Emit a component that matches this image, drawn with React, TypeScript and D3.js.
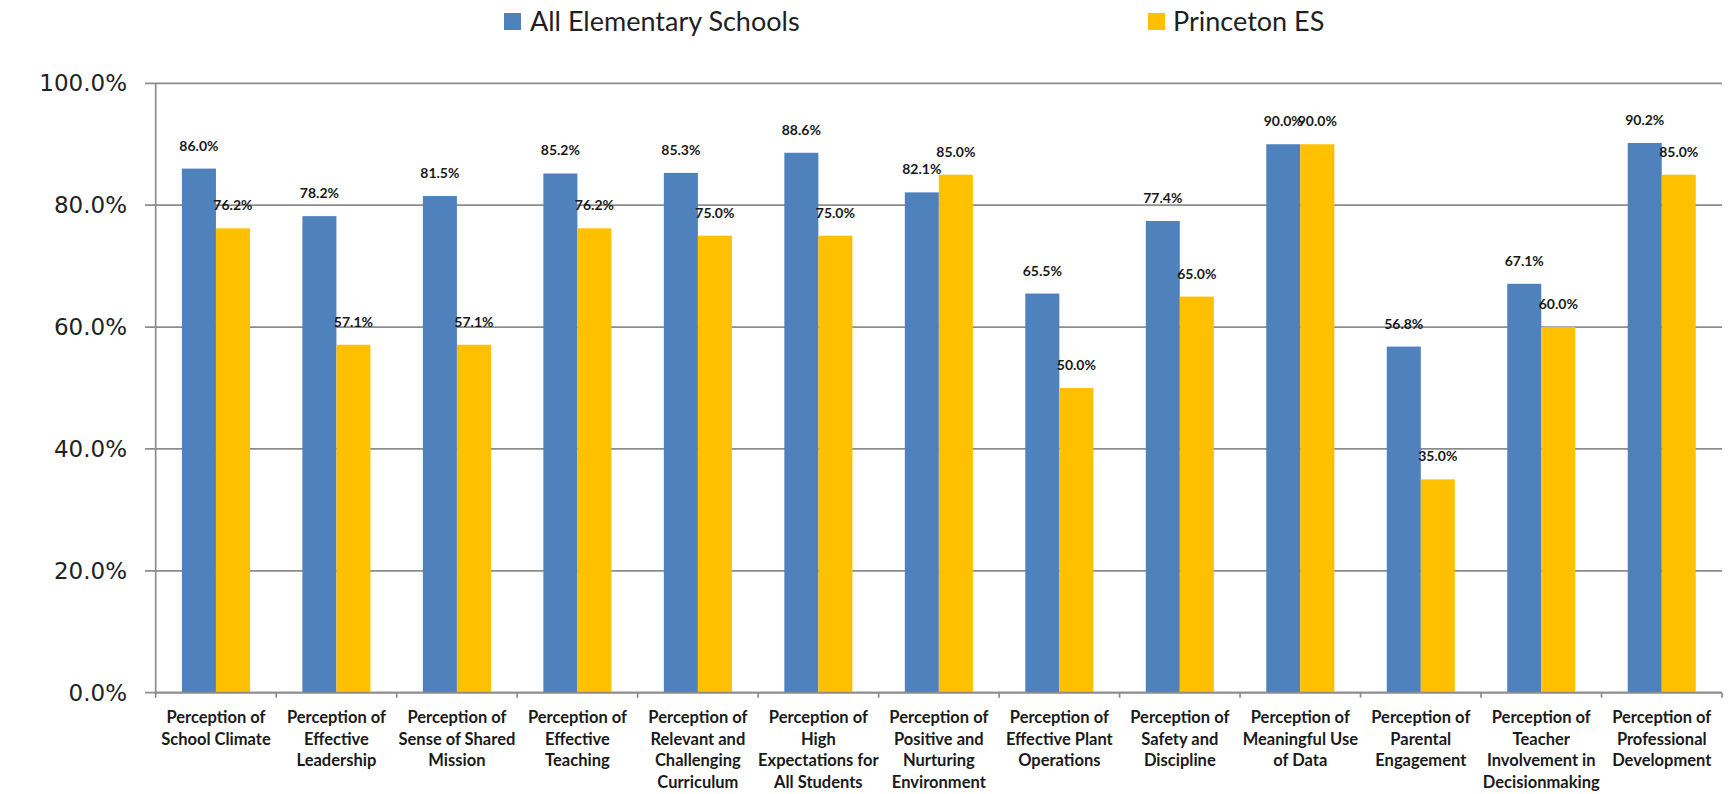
import React from "react";
import * as d3 from "d3";

const categories = [
  ["Perception of", "School Climate"],
  ["Perception of", "Effective", "Leadership"],
  ["Perception of", "Sense of Shared", "Mission"],
  ["Perception of", "Effective", "Teaching"],
  ["Perception of", "Relevant and", "Challenging", "Curriculum"],
  ["Perception of", "High", "Expectations for", "All Students"],
  ["Perception of", "Positive and", "Nurturing", "Environment"],
  ["Perception of", "Effective Plant", "Operations"],
  ["Perception of", "Safety and", "Discipline"],
  ["Perception of", "Meaningful Use", "of Data"],
  ["Perception of", "Parental", "Engagement"],
  ["Perception of", "Teacher", "Involvement in", "Decisionmaking"],
  ["Perception of", "Professional", "Development"],
];

const seriesNames = ["All Elementary Schools", "Princeton ES"];
const seriesColors = ["#4F81BD", "#FFC000"];

const allSchools = [86.0, 78.2, 81.5, 85.2, 85.3, 88.6, 82.1, 65.5, 77.4, 90.0, 56.8, 67.1, 90.2];
const princeton = [76.2, 57.1, 57.1, 76.2, 75.0, 75.0, 85.0, 50.0, 65.0, 90.0, 35.0, 60.0, 85.0];

const yTicks = [0, 20, 40, 60, 80, 100];

const W = 1728;
const H = 794;
const plot = { left: 155.7, right: 1722, top: 83.3, bottom: 692.7 };

export default function App() {
  const keys = categories.map((c) => c.join(" "));
  const series = [allSchools, princeton];

  const x0 = d3.scaleBand().domain(keys).range([plot.left, plot.right]).padding(0);
  const x1 = d3
    .scaleBand()
    .domain(seriesNames)
    .range([0, x0.bandwidth()])
    .paddingInner(0)
    .paddingOuter(0.77);
  const y = d3.scaleLinear().domain([0, 100]).range([plot.bottom, plot.top]);
  const fmt = (v) => d3.format(".1f")(v) + "%";

  const grid = "#8c8c8c";

  return (
    <svg
      width={W}
      height={H}
      style={{ position: "absolute", left: 0, top: 0, background: "#fff" }}
    >
      {/* legend */}
      <g fontFamily="Lato, sans-serif" fontSize={27} fill="#1f1f1f">
        <rect x={504} y={13} width={17} height={17} fill={seriesColors[0]} />
        <text x={530} y={31}>{seriesNames[0]}</text>
        <rect x={1148} y={13} width={17} height={17} fill={seriesColors[1]} />
        <text x={1173} y={31}>{seriesNames[1]}</text>
      </g>

      {/* gridlines + y axis */}
      <g>
        {yTicks.map((t) => (
          <g key={t}>
            <line x1={145} x2={plot.right} y1={y(t)} y2={y(t)} stroke={grid} strokeWidth={1.7} />
            <text
              x={127}
              y={y(t)}
              textAnchor="end"
              dominantBaseline="central"
              fontFamily="'DejaVu Sans', Verdana, sans-serif"
              fontSize={23}
              fill="#222"
            >
              {fmt(t)}
            </text>
          </g>
        ))}
        <line x1={plot.left} x2={plot.left} y1={plot.top} y2={plot.bottom + 5} stroke={grid} strokeWidth={1.7} />
      </g>

      {/* bars */}
      {keys.map((k, i) => (
        <g key={k} transform={`translate(${x0(k)},0)`}>
          {series.map((vals, s) => (
            <rect
              key={s}
              x={x1(seriesNames[s])}
              y={y(vals[i])}
              width={x1.bandwidth()}
              height={y(0) - y(vals[i])}
              fill={seriesColors[s]}
            />
          ))}
        </g>
      ))}

      {/* x axis */}
      <line x1={plot.left} x2={plot.right} y1={plot.bottom} y2={plot.bottom} stroke={grid} strokeWidth={1.7} />
      {keys.map((k) => (
        <line key={k} x1={x0(k) + x0.bandwidth()} x2={x0(k) + x0.bandwidth()} y1={plot.bottom} y2={plot.bottom + 5} stroke={grid} strokeWidth={1.7} />
      ))}

      {/* value labels */}
      <g fontFamily="Lato, sans-serif" fontWeight="bold" fontSize={14} fill="#1a1a1a" textAnchor="middle">
        {keys.map((k, i) =>
          series.map((vals, s) => (
            <text
              key={k + s}
              x={x0(k) + x1(seriesNames[s]) + x1.bandwidth() / 2}
              y={y(vals[i]) - 18}
            >
              {fmt(vals[i])}
            </text>
          ))
        )}
      </g>

      {/* category labels */}
      <g fontFamily="Lato, sans-serif" fontWeight="bold" fontSize={16.5} fill="#1a1a1a" textAnchor="middle">
        {categories.map((lines, i) => (
          <text key={i} x={x0(keys[i]) + x0.bandwidth() / 2} y={723}>
            {lines.map((ln, j) => (
              <tspan key={j} x={x0(keys[i]) + x0.bandwidth() / 2} dy={j === 0 ? 0 : 21.7}>
                {ln}
              </tspan>
            ))}
          </text>
        ))}
      </g>
    </svg>
  );
}
